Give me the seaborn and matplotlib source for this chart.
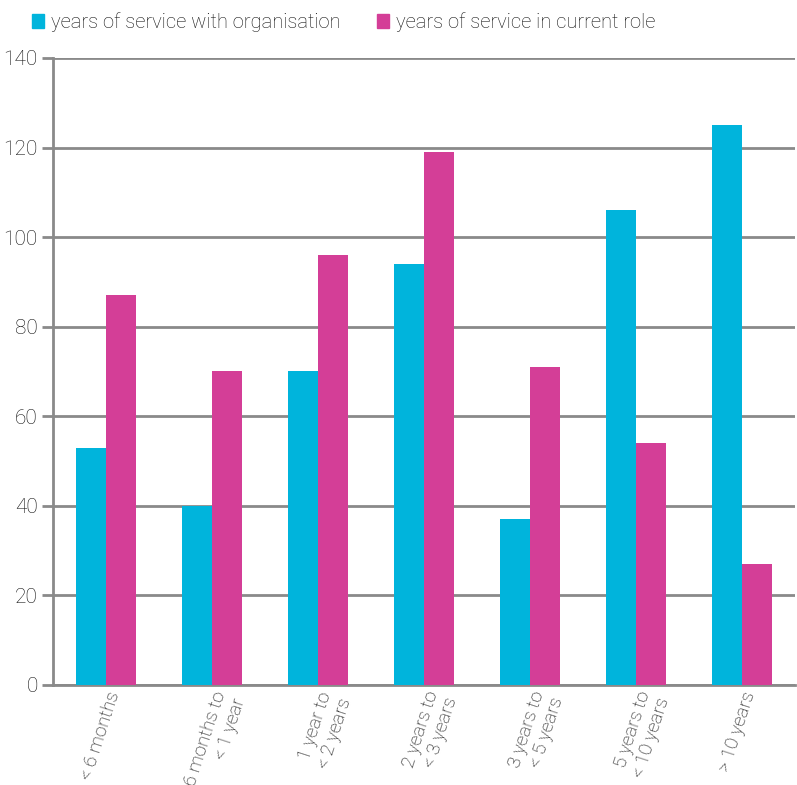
import matplotlib
matplotlib.use("Agg")
import matplotlib.pyplot as plt
import seaborn as sns
import pandas as pd
import numpy as np

categories = ["< 6 months", "6 months to\n< 1 year", "1 year to\n< 2 years", "2 years to\n< 3 years",
              "3 years to\n< 5 years", "5 years to\n< 10 years", "> 10 years"]
series_names = ["years of service with organisation", "years of service in current role"]
with_org = [53, 40, 70, 94, 37, 106, 125]
current_role = [87, 70, 96, 119, 71, 54, 27]
y_ticks = [0, 20, 40, 60, 80, 100, 120, 140]
colors = ["#00B4DC", "#D43E97"]

df = pd.DataFrame({
    "category": categories * 2,
    "series": [series_names[0]] * len(categories) + [series_names[1]] * len(categories),
    "value": with_org + current_role,
})

sns.set_style("white")
plt.rcParams["font.family"] = ["Roboto", "DejaVu Sans"]

fig = plt.figure(figsize=(7.97, 7.85), dpi=100)
ax = fig.add_axes([0.0665, 0.1274, 0.931, 0.7988])

sns.barplot(data=df, x="category", y="value", hue="series", order=categories,
            hue_order=series_names, palette=colors, width=0.56, gap=0,
            saturation=1, ax=ax, legend=False, zorder=3, linewidth=0, edgecolor="none")

ax.set_xlim(-0.5, len(categories) - 0.5)
ax.set_ylim(0, 140)
ax.set_yticks(y_ticks)
ax.set_yticklabels([str(t) for t in y_ticks], fontsize=15, fontweight="light", color="#111111")
ax.yaxis.grid(True, color="#8a8a8a", linewidth=2, zorder=0)
ax.set_axisbelow(True)
ax.set_xlabel("")
ax.set_ylabel("")

ax.set_xticks(range(len(categories)))
ax.set_xticklabels(categories, rotation=72, ha="right", rotation_mode="anchor",
                   fontsize=13.5, fontweight="light", color="#111111", multialignment="right")
ax.tick_params(axis="x", which="major", length=0, pad=3)
ax.set_xticks(np.arange(-0.5, len(categories), 1.0), minor=True)
ax.tick_params(axis="x", which="minor", length=6, width=1.5, color="#8a8a8a", direction="out")
ax.tick_params(axis="y", length=8, width=2, color="#8a8a8a", direction="out", left=True, pad=3)

for s in ["top", "right"]:
    ax.spines[s].set_visible(False)
for s in ["left", "bottom"]:
    ax.spines[s].set_color("#8a8a8a")
    ax.spines[s].set_linewidth(2)

handles = [plt.Rectangle((0, 0), 1, 1, color=c) for c in colors]
fig.legend(handles, series_names, loc="upper left", bbox_to_anchor=(0.017, 1.008), ncol=2,
           frameon=False, handlelength=0.6, handleheight=0.7, handletextpad=0.35,
           columnspacing=1.8, prop={"size": 14.5, "weight": "light"}, labelcolor="#111111")

fig.savefig("out.png", dpi=100)
